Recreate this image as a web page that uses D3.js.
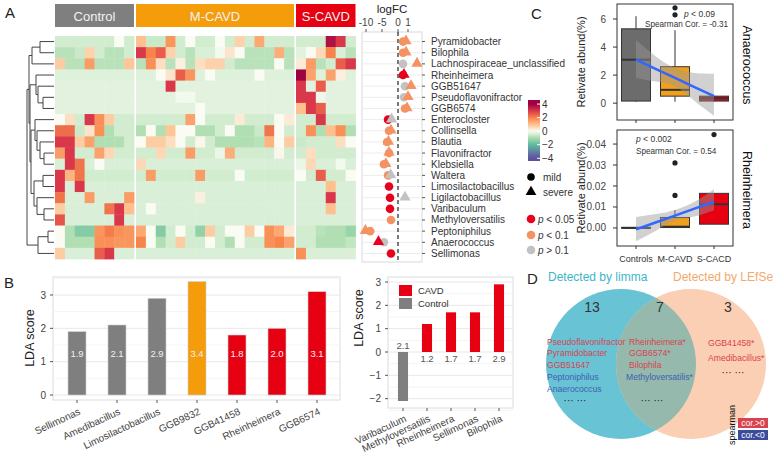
<!DOCTYPE html>
<html><head><meta charset="utf-8">
<script src="https://cdn.jsdelivr.net/npm/d3@7"></script>
<style>body{margin:0;background:#fff}</style>
</head><body><svg id="c" width="773" height="455"></svg>
<script>
// ---------------- DATA ----------------
const taxa = ["Pyramidobacter","Bilophila","Lachnospiraceae_unclassified","Rheinheimera","GGB51647",
  "Pseudoflavonifractor","GGB6574","Enterocloster","Collinsella","Blautia","Flavonifractor","Klebsiella",
  "Waltera","Limosilactobacillus","Ligilactobacillus","Varibaculum","Methyloversatilis","Peptoniphilus",
  "Anaerococcus","Sellimonas"];
const groups = ["Control","M-CAVD","S-CAVD"];
const groupSizes = [8,16,6];
// z-scored abundance per taxon: 8 Control, 16 M-CAVD, 6 S-CAVD samples
const heat = [
 [-0.5,-0.5,-0.5,-0.5,-0.5,-0.5,0,-0.5, 1.0,-0.6,-0.6,1.7,-0.5,0,-0.5,-0.5,0,-0.5,0.7,-0.5,1.4,-0.5,-0.5,-0.5, -0.5,-0.5,-0.5,3.7,3.0,-0.5],
 [-0.8,-0.8,-0.6,0.7,-0.5,-0.8,-0.8,-0.5, 3.0,2.0,2.5,0.7,-0.5,-0.8,-0.4,-0.4,-0.1,0.4,0,-0.8,-0.8,-0.8,1.3,-0.8, -0.3,0,0.6,2.0,-0.4,-0.8],
 [0.8,-0.8,-0.8,1.6,-0.8,-0.8,-0.8,0.9, -0.8,1.8,0.5,-0.8,0.2,-0.8,0.5,0.7,0.7,-0.5,-0.8,-0.8,-0.8,-0.8,0,-0.8, 0.3,1.6,-0.8,-0.5,2.5,3.0],
 [-0.35,-0.35,-0.35,-0.35,-0.35,-0.35,-0.35,-0.35, -0.35,-0.35,0,0.4,2.5,1.7,-0.35,0,-0.35,-0.35,-0.35,-0.35,0,-0.35,-0.35,-0.35, 4.0,1.5,-0.35,1.5,0.2,-0.35],
 [-0.3,-0.3,-0.3,-0.3,-0.3,-0.3,-0.3,-0.3, -0.3,-0.3,-0.3,3.0,-0.3,-0.3,-0.3,-0.3,-0.3,-0.3,-0.3,-0.3,-0.3,-0.3,-0.3,-0.3, 3.0,-0.3,2.5,-0.3,-0.3,-0.3],
 [-0.3,-0.3,-0.3,-0.3,-0.3,-0.3,-0.3,-0.3, -0.3,-0.3,-0.3,-0.3,-0.1,-0.1,-0.3,-0.3,-0.3,-0.3,-0.3,-0.3,-0.3,-0.3,-0.3,-0.3, 3.0,3.0,-0.15,-0.3,-0.3,-0.3],
 [-0.3,-0.3,-0.3,-0.3,-0.3,-0.3,-0.3,-0.3, -0.3,-0.3,-0.3,-0.3,-0.3,-0.3,0,-0.3,-0.3,-0.3,-0.3,-0.3,-0.3,-0.3,-0.3,-0.3, 1.0,3.0,2.5,-0.3,-0.3,-0.3],
 [0,0.5,-0.5,3.0,1.8,0.8,-0.5,-0.5, -0.5,-0.5,-0.5,-0.5,-0.5,1.5,0,-0.5,-0.5,-0.5,0.3,-0.5,-0.5,-0.5,0,0.3, -0.5,-0.5,3.0,-0.5,-0.5,-0.5],
 [2.3,2.3,-0.6,0.4,1.8,-0.9,-0.5,-0.5, -0.9,0,-0.9,0.9,0,0,-0.9,-0.9,-0.5,0,-0.9,-0.9,-0.6,2.2,0,-0.5, -0.5,1.8,-0.9,1.0,1.8,-0.9],
 [3.0,3.0,0.8,1.5,-0.9,-0.9,-0.9,-0.5, 0,0.8,0.8,0.5,0,-0.5,0.1,-0.5,-0.9,-0.9,-0.9,-0.9,-0.8,1.2,0,0.8, -0.6,-0.5,-0.5,-0.5,0.5,0],
 [1.6,3.0,-0.5,-0.5,1.5,0.6,-0.5,-0.5, -0.5,-0.5,0.6,-0.5,-0.5,1.6,-0.5,-0.5,-0.2,1.3,-0.5,-0.5,-0.5,-0.5,0.1,-0.5, -0.5,0.5,-0.5,-0.5,-0.5,-0.5],
 [-0.4,3.0,2.2,-0.4,0,-0.4,-0.4,-0.4, 0.6,-0.4,-0.4,-0.4,-0.4,-0.4,-0.4,-0.4,-0.4,-0.4,-0.4,-0.4,-0.4,-0.4,-0.4,-0.4, -0.2,0.6,-0.4,-0.4,-0.1,-0.4],
 [3.0,1.2,2.2,-0.5,-0.5,-0.5,-0.5,-0.5, -0.5,1.6,-0.5,-0.5,-0.5,-0.5,1.6,-0.5,-0.5,-0.5,0,-0.5,-0.5,-0.5,-0.5,-0.5, 0,-0.5,2.5,-0.5,-0.5,0],
 [3.0,-0.4,3.0,-0.4,-0.4,-0.4,-0.4,-0.4, -0.4,-0.4,-0.4,-0.4,-0.4,-0.4,-0.4,-0.4,-0.4,-0.4,-0.4,-0.4,-0.4,-0.4,-0.4,-0.4, -0.4,-0.4,-0.4,1.0,-0.4,-0.4],
 [2.2,-0.4,-0.4,1.6,-0.4,-0.4,-0.4,1.6, -0.4,-0.4,-0.4,-0.4,-0.4,-0.4,0.2,-0.4,-0.4,-0.4,-0.4,-0.4,-0.4,-0.4,-0.4,-0.4, -0.4,-0.4,-0.4,3.0,-0.4,-0.4],
 [0.8,-0.4,-0.4,-0.4,-0.4,2.2,3.0,1.0, -0.4,0,-0.4,-0.4,-0.4,-0.4,-0.4,-0.4,-0.4,-0.4,-0.4,-0.4,-0.4,-0.4,-0.4,-0.4, -0.4,-0.4,-0.4,1.0,-0.4,-0.4],
 [2.6,-0.4,-0.4,-0.4,-0.4,-0.4,3.0,-0.4, -0.4,-0.4,-0.4,-0.4,-0.4,-0.4,-0.4,-0.4,-0.4,-0.4,-0.4,-0.4,-0.4,-0.4,-0.4,-0.4, -0.4,-0.4,-0.4,-0.4,-0.4,-0.4],
 [0,-0.9,-1.5,-1.5,1.7,2.1,1.8,1.7, 1.4,0,-1.5,-0.5,0,-0.5,-1.3,0.8,-0.5,0,0,0.8,0,1.8,1.4,0.3, -0.5,-0.5,-0.8,-0.9,-0.9,-1.2],
 [0,-0.9,-0.9,-0.9,1.8,1.8,1.7,1.7, 2.0,0,-0.9,-0.5,0.8,-0.5,-0.5,0,-0.5,-0.9,0,-0.5,-0.5,1.8,2.0,1.5, -0.5,-0.5,-0.9,-0.9,-0.9,-0.7],
 [0.8,-0.4,-0.4,-0.4,2.5,3.0,-0.4,-0.4, -0.4,-0.4,-0.4,-0.4,-0.4,-0.4,-0.4,-0.4,-0.4,-0.4,-0.4,-0.4,-0.4,-0.4,-0.4,-0.4, 1.8,-0.4,-0.4,-0.4,-0.4,-0.4]
];
// dendrogram: [height, left, right], leaves = row index
const dendro = [27,[25,[22,[14,0,1],2],[24,[18,3,[16,4,[11,5,6]]],[23,[19,7,[17,8,[14,9,[10,10,11]]]],[20,[11,12,13],[17,14,[10,15,16]]]]]],[16,[6,17,18],19]];
// logFC: mild (circle) and severe (triangle), p class r:<0.05 o:<0.1 g:>0.1
const fcMild   = [0.5,0.5,0.5,0.5,0.7,0.6,0.7,-3.1,-2.8,-3.4,-2.8,-4.4,-3.1,-2.8,-2.5,-2.5,-2.2,-8.7,-4.4,-2.2];
const pMild    = ["o","o","g","r","g","g","o","r","o","o","o","o","o","r","r","r","o","o","g","r"];
const fcSevere = [0.8,0.8,1.9,0.6,1.3,1.0,0.9,-2.0,-2.2,-3.0,-2.8,-3.8,-2.3,null,0.7,null,null,-10.3,-6.1,null];
const pSevere  = ["o","o","o","r","o","o","o","g","o","o","o","o","g",null,"g",null,null,"o","r",null];
const fcTicks = [-10,-5,0,1];
const heatTicks = [4,2,0,-2,-4];
// Panel B
const ldaTaxa = ["Sellimonas","Amedibacillus","Limosilactobacillus","GGB9832","GGB41458","Rheinheimera","GGB6574"];
const ldaScore = [1.9,2.1,2.9,3.4,1.8,2.0,3.1];
const ldaGroup = ["Control","Control","Control","M-CAVD","S-CAVD","S-CAVD","S-CAVD"];
const lda2Taxa = ["Varibaculum","Methyloversatilis","Rheinheimera","Sellimonas","Bilophila"];
const lda2Score = [-2.1,1.2,1.7,1.7,2.9];
const lda2Group = ["Control","CAVD","CAVD","CAVD","CAVD"];
// Panel C
const cGroups = ["Controls","M-CAVD","S-CACD"];
const anaeroBox = [ {lo:0.1,q1:0.15,med:3.1,q3:5.3,hi:6.2}, {lo:0.1,q1:0.5,med:0.95,q3:2.6,hi:5.2}, {lo:0.1,q1:0.15,med:0.35,q3:0.5,hi:0.5} ];
const anaeroOut = [[],[6.3,6.8],[]];
const anaeroFitX = [1,1.5,2,2.5,3];
const anaeroFit = [3.1,2.45,1.8,1.15,0.5];
const anaeroLo = [1.8,1.55,1.2,0.15,-0.9];
const anaeroHi = [4.5,3.35,2.5,2.15,2.1];
const rheinBox = [ {lo:0,q1:0,med:0,q3:0.0003,hi:0.0003}, {lo:0,q1:0.0002,med:0.0006,q3:0.005,hi:0.0085}, {lo:0.0018,q1:0.0018,med:0.0113,q3:0.0165,hi:0.0165} ];
const rheinOut = [[],[0.0155,0.031],[0.0445]];
const rheinFitX = [1,1.5,2,2.5,3];
const rheinFit = [-0.0007,0.0026,0.0059,0.0092,0.0125];
const rheinLo = [-0.0063,-0.0015,0.0035,0.0055,0.0085];
const rheinHi = [0.0052,0.0066,0.0086,0.0125,0.0185];
const anaeroTicks = [0,2,4,6];
const rheinTicks = [0,0.01,0.02,0.03,0.04];
// Panel D
const vennCounts = [13,7,3];
const vennLeft = [["Pseudoflavonifractor","pos"],["Pyramidobacter","pos"],["GGB51647","pos"],["Peptoniphilus","neg"],["Anaerococcus","neg"]];
const vennMid = [["Rheinheimera*","pos"],["GGB6574*","pos"],["Bilophila","pos"],["Methyloversatilis*","neg"]];
const vennRight = [["GGB41458*","pos"],["Amedibacillus*","pos"]];

// ---------------- DRAW ----------------
const svg = d3.select("#c").attr("font-family",'"Liberation Sans", Arial, Helvetica, sans-serif');
const C = {ctrl:"#7f7f7f", m:"#f49c0a", s:"#e60012", red:"#e8001c", orange:"#f59264", gray:"#c2c2c2",
  pos:"#d9434f", neg:"#3d5fb0"};
const txt = (x,y,s,o={}) => {
  const t = svg.append("text").attr("x",x).attr("y",y).text(s)
    .attr("font-size",o.size||10).attr("fill",o.fill||"#333").attr("text-anchor",o.anchor||"start");
  if(o.rot!==undefined) t.attr("transform",`rotate(${o.rot},${x},${y})`);
  return t;
};
// panel letters
[["A",5,18],["B",4,288],["C",531,19],["D",527,284]].forEach(d=>txt(d[1],d[2],d[0],{size:15,fill:"#222"}));

// ---- Panel A heatmap ----
const heatColor = d3.scaleLinear().domain([-4,-2,-1,0,1,2,3,4])
  .range(["#5e4fa2","#5fbaa0","#a9dcac","#fafcf4","#fdc08e","#f7844a","#d8384a","#9e0142"]).clamp(true);
const rowY = d3.scaleBand().domain(taxa).range([36,259]);
const groupRanges = [[55,134],[136,294],[296,355.5]];
const groupColors = [C.ctrl,C.m,C.s];
let colStart = 0;
groups.forEach((g,gi)=>{
  const n = groupSizes[gi];
  const cx = d3.scaleBand().domain(d3.range(n)).range(groupRanges[gi]);
  svg.append("rect").attr("x",groupRanges[gi][0]).attr("y",4).attr("width",groupRanges[gi][1]-groupRanges[gi][0]).attr("height",23).attr("fill",groupColors[gi]);
  txt((groupRanges[gi][0]+groupRanges[gi][1])/2,20.5,g,{size:13,fill:"#f2f2f2",anchor:"middle"});
  const cs = colStart;
  taxa.forEach((t,ri)=>{
    svg.append("g").selectAll("rect").data(d3.range(n)).join("rect")
      .attr("x",k=>cx(k)).attr("y",rowY(t)).attr("width",cx.bandwidth()+0.4).attr("height",rowY.bandwidth()+0.4)
      .attr("fill",k=>heatColor(heat[ri][cs+k]));
  });
  colStart += n;
});
// dendrogram
const dx = d3.scaleLinear().domain([0,27]).range([54,27]);
const dg = svg.append("g").attr("fill","none").attr("stroke","#444").attr("stroke-width",1);
function drawNode(node){
  if(typeof node==="number") return {x:dx(0), y:rowY(taxa[node])+rowY.bandwidth()/2};
  const [h,a,b] = node; const A=drawNode(a), B=drawNode(b), x=dx(h);
  dg.append("path").attr("d",`M${A.x},${A.y}H${x}V${B.y}H${B.x}`);
  return {x, y:(A.y+B.y)/2};
}
drawNode(dendro);

// ---- logFC panel ----
const fcX = d3.scaleLinear().domain([-12,-10,-5,0,1,2.5]).range([362,366,382,398,408,423]);
svg.append("rect").attr("x",362).attr("y",32).attr("width",60).attr("height",230).attr("fill","#fff").attr("stroke","#d9d9d9");
taxa.forEach(t=>{
  const y = rowY(t)+rowY.bandwidth()/2;
  svg.append("line").attr("x1",362).attr("x2",422).attr("y1",y).attr("y2",y).attr("stroke","#ececec");
  svg.append("line").attr("x1",422).attr("x2",425).attr("y1",y).attr("y2",y).attr("stroke","#555");
  txt(431,y+3.5,t,{size:10,fill:"#333"});
});
svg.append("line").attr("x1",fcX(0)).attr("x2",fcX(0)).attr("y1",32).attr("y2",262).attr("stroke","#333").attr("stroke-width",1.3).attr("stroke-dasharray","4,3");
fcTicks.forEach(v=>{
  svg.append("line").attr("x1",fcX(v)).attr("x2",fcX(v)).attr("y1",29).attr("y2",32).attr("stroke","#555");
  txt(fcX(v),26,String(v),{size:10,anchor:"middle",fill:"#444"});
});
txt(392,13,"logFC",{size:11.5,anchor:"middle",fill:"#222"});
const pCol = {r:C.red,o:C.orange,g:C.gray};
taxa.forEach((t,i)=>{
  const y = rowY(t)+rowY.bandwidth()/2;
  svg.append("circle").attr("cx",fcX(fcMild[i])).attr("cy",y).attr("r",4.3).attr("fill",pCol[pMild[i]]);
});
taxa.forEach((t,i)=>{
  if(fcSevere[i]===null) return;
  const y = rowY(t)+rowY.bandwidth()/2;
  svg.append("path").attr("d",d3.symbol(d3.symbolTriangle,55)()).attr("transform",`translate(${fcX(fcSevere[i])},${y-0.5})`).attr("fill",pCol[pSevere[i]]);
});
// color legend
const legY = d3.scaleLinear().domain([-4.4,4.6]).range([161,100]);
const grad = svg.append("defs").append("linearGradient").attr("id","hg").attr("x1",0).attr("x2",0).attr("y1",1).attr("y2",0);
d3.range(-4.4,4.61,0.3).forEach(v=>grad.append("stop").attr("offset",(v+4.4)/9).attr("stop-color",heatColor(v)));
svg.append("rect").attr("x",528).attr("y",legY(4.6)).attr("width",12).attr("height",legY(-4.4)-legY(4.6)).attr("fill","url(#hg)");
heatTicks.forEach(v=>{
  svg.append("line").attr("x1",537).attr("x2",540).attr("y1",legY(v)).attr("y2",legY(v)).attr("stroke","#fff");
  txt(542,legY(v)+3.5,v<0?"\u2212"+Math.abs(v):String(v),{size:10,fill:"#333"});
});
svg.append("circle").attr("cx",531).attr("cy",177).attr("r",3.8).attr("fill","#000");
txt(543,180.5,"mild",{size:10});
svg.append("path").attr("d",d3.symbol(d3.symbolTriangle,50)()).attr("transform","translate(531,192)").attr("fill","#000");
txt(543,196,"severe",{size:10});
[["r","0.05","<",219],["o","0.1","<",235],["g","0.1",">",250]].forEach(d=>{
  svg.append("circle").attr("cx",531).attr("cy",d[3]).attr("r",4.3).attr("fill",pCol[d[0]]);
  const t = txt(538,d[3]+3.5,"",{size:10});
  t.append("tspan").attr("font-style","italic").text("p");
  t.append("tspan").text(` ${d[2]} ${d[1]}`);
});

// ---- Panel B left ----
const bColor = g => g==="Control"?C.ctrl:(g==="M-CAVD"?C.m:C.s);
const bx = d3.scaleBand().domain(ldaTaxa).range([57,337]).paddingInner(0.55).paddingOuter(0.275);
const by = d3.scaleLinear().domain([0,3]).range([395,295]);
svg.append("rect").attr("x",53).attr("y",277).attr("width",287).attr("height",123).attr("fill","#fff").attr("stroke","#dcdcdc");
d3.range(0,3.6,0.5).forEach(v=>{ if(by(v)>278) svg.append("line").attr("x1",53).attr("x2",340).attr("y1",by(v)).attr("y2",by(v)).attr("stroke",v%1===0?"#e8e8e8":"#f4f4f4"); });
[0,1,2,3].forEach(v=>{
  svg.append("line").attr("x1",50).attr("x2",53).attr("y1",by(v)).attr("y2",by(v)).attr("stroke","#555");
  txt(46,by(v)+3.5,String(v),{size:10,anchor:"end",fill:"#444"});
});
txt(34,338,"LDA score",{size:12.5,anchor:"middle",rot:-90,fill:"#222"});
ldaTaxa.forEach((t,i)=>{
  svg.append("rect").attr("x",bx(t)).attr("y",by(ldaScore[i])).attr("width",bx.bandwidth()).attr("height",by(0)-by(ldaScore[i]))
    .attr("fill",bColor(ldaGroup[i])).attr("stroke","#ccc").attr("stroke-width",0.6);
  txt(bx(t)+bx.bandwidth()/2,by(1.25)+3.5,ldaScore[i].toFixed(1),{size:9.5,anchor:"middle",fill:"#f0f0f0"});
  const cx = bx(t)+bx.bandwidth()/2;
  svg.append("line").attr("x1",cx).attr("x2",cx).attr("y1",400).attr("y2",403).attr("stroke","#555");
  txt(cx+4,414,t,{size:10,anchor:"end",rot:-25,fill:"#444"});
});

// ---- Panel B right ----
const b2x = d3.scaleBand().domain(lda2Taxa).range([391,511]).paddingInner(0.58).paddingOuter(0.29);
const b2y = d3.scaleLinear().domain([0,3]).range([352,282]);
svg.append("rect").attr("x",388).attr("y",277).attr("width",125).attr("height",131).attr("fill","#fff").attr("stroke","#dcdcdc");
d3.range(-2.5,3.1,0.5).forEach(v=>svg.append("line").attr("x1",388).attr("x2",513).attr("y1",b2y(v)).attr("y2",b2y(v)).attr("stroke",v%1===0?"#e8e8e8":"#f4f4f4"));
[-2,-1,0,1,2,3].forEach(v=>{
  svg.append("line").attr("x1",385).attr("x2",388).attr("y1",b2y(v)).attr("y2",b2y(v)).attr("stroke","#555");
  txt(381,b2y(v)+3.5,v<0?"\u2212"+Math.abs(v):String(v),{size:10,anchor:"end",fill:"#444"});
});
txt(363,318,"LDA score",{size:12.5,anchor:"middle",rot:-90,fill:"#222"});
lda2Taxa.forEach((t,i)=>{
  const v = lda2Score[i];
  svg.append("rect").attr("x",b2x(t)).attr("y",b2y(Math.max(v,0))).attr("width",b2x.bandwidth()).attr("height",Math.abs(b2y(v)-b2y(0)))
    .attr("fill",lda2Group[i]==="CAVD"?C.s:C.ctrl);
  const cx = b2x(t)+b2x.bandwidth()/2;
  txt(cx,v<0?b2y(0)-3:b2y(0)+9.5,Math.abs(v).toFixed(1),{size:9.5,anchor:"middle",fill:"#555"});
  svg.append("line").attr("x1",cx).attr("x2",cx).attr("y1",408).attr("y2",411).attr("stroke","#555");
  txt(cx+4,421,t,{size:10,anchor:"end",rot:-25,fill:"#444"});
});
[["CAVD",C.s,285],["Control",C.ctrl,298]].forEach(d=>{
  svg.append("rect").attr("x",399).attr("y",d[2]).attr("width",13).attr("height",11).attr("fill",d[1]);
  txt(418,d[2]+9,d[0],{size:9.5,fill:"#333"});
});

// ---- Panel C ----
const cx = d3.scaleLinear().domain([1,3]).range([636,714]);
function boxPanel(top,bottom,ydom,yrng,ticks,fmt,box,outs,fitX,fit,lo,hi,title,titleY,xlabels){
  const y = d3.scaleLinear().domain(ydom).range(yrng);
  svg.append("rect").attr("x",617).attr("y",top).attr("width",116).attr("height",bottom-top).attr("fill","#fff");
  const fills = [ "#6c6c6c", "#f0a01c", C.s ];
  box.forEach((b,i)=>{
    const x = cx(i+1), w=29;
    svg.append("line").attr("x1",x).attr("x2",x).attr("y1",y(b.hi)).attr("y2",y(b.q3)).attr("stroke","#333");
    svg.append("line").attr("x1",x).attr("x2",x).attr("y1",y(b.q1)).attr("y2",y(b.lo)).attr("stroke","#333");
    svg.append("rect").attr("x",x-w/2).attr("y",y(b.q3)).attr("width",w).attr("height",Math.max(y(b.q1)-y(b.q3),0.5))
      .attr("fill",fills[i]).attr("stroke","#333").attr("stroke-width",1);
    svg.append("line").attr("x1",x-w/2).attr("x2",x+w/2).attr("y1",y(b.med)).attr("y2",y(b.med)).attr("stroke","#333").attr("stroke-width",2);
    outs[i].forEach(o=>svg.append("circle").attr("cx",x).attr("cy",y(o)).attr("r",2.6).attr("fill","#222"));
  });
  const pts = fitX.map((v,i)=>({x:v,f:fit[i],lo:lo[i],hi:hi[i]}));
  svg.append("path").datum(pts).attr("d",d3.area().x(d=>cx(d.x)).y0(d=>y(d.lo)).y1(d=>y(d.hi)).curve(d3.curveNatural))
    .attr("fill","#999").attr("opacity",0.45);
  svg.append("path").datum(pts).attr("d",d3.line().x(d=>cx(d.x)).y(d=>y(d.f))).attr("stroke","#3366ff").attr("stroke-width",2.5).attr("fill","none");
  svg.append("rect").attr("x",617).attr("y",top).attr("width",116).attr("height",bottom-top).attr("fill","none").attr("stroke","#333");
  ticks.forEach(v=>{
    svg.append("line").attr("x1",613).attr("x2",617).attr("y1",y(v)).attr("y2",y(v)).attr("stroke","#333");
    txt(606,y(v)+3.5,fmt(v),{size:10,anchor:"end",fill:"#444"});
  });
  cGroups.forEach((g,i)=>{
    svg.append("line").attr("x1",cx(i+1)).attr("x2",cx(i+1)).attr("y1",bottom).attr("y2",bottom+3).attr("stroke","#333");
    if(xlabels) txt(cx(i+1),bottom+16,g,{size:9,anchor:"middle",fill:"#333"});
  });
  txt(585,(top+bottom)/2,"Retivate abund(%)",{size:11,anchor:"middle",rot:-90,fill:"#222"});
  txt(743,titleY,title,{size:12.5,anchor:"middle",rot:90,fill:"#111"});
  return y;
}
boxPanel(4,120,[-1.2,7.07],[120,4],anaeroTicks,d=>String(d),anaeroBox,anaeroOut,anaeroFitX,anaeroFit,anaeroLo,anaeroHi,"Anaerococcus",65,false);
boxPanel(130,246,[-0.0086,0.0467],[246,130],rheinTicks,d=>d.toFixed(2),rheinBox,rheinOut,rheinFitX,rheinFit,rheinLo,rheinHi,"Rheinheimera",190,true);
let t1 = txt(684,16.5,"",{size:8.5,fill:"#333"}); t1.append("tspan").attr("font-style","italic").text("p"); t1.append("tspan").text(" < 0.09");
txt(645,27,"Spearman Cor. = -0.31",{size:8.2,fill:"#333"});
let t2 = txt(636,142,"",{size:8.5,fill:"#333"}); t2.append("tspan").attr("font-style","italic").text("p"); t2.append("tspan").text(" < 0.002");
txt(636,154,"Spearman Cor. = 0.54",{size:8.2,fill:"#333"});

// ---- Panel D ----
txt(548,281,"Detected by limma",{size:12,fill:"#3cb6c6"});
txt(673,281,"Detected by LEfSe",{size:12,fill:"#f2a96a"});
const defs = svg.select("defs");
defs.append("clipPath").attr("id","lc").append("circle").attr("cx",621).attr("cy",364).attr("r",75);
svg.append("circle").attr("cx",621).attr("cy",364).attr("r",75).attr("fill","#68c4d4");
svg.append("circle").attr("cx",691).attr("cy",364).attr("r",75).attr("fill","#fbcfb4");
svg.append("circle").attr("cx",691).attr("cy",364).attr("r",75).attr("fill","#95b9ac").attr("clip-path","url(#lc)");
[592,660,728].forEach((x,i)=>txt(x,312,String(vennCounts[i]),{size:14,anchor:"middle",fill:"#333"}));
const vc = {pos:C.pos,neg:C.neg};
vennLeft.forEach((d,i)=>txt(547,344.5+i*11.8,d[0],{size:8.6,fill:vc[d[1]]}));
vennMid.forEach((d,i)=>txt(d[1]==="neg"?626:629,344.5+i*11.8,d[0],{size:8.6,fill:vc[d[1]]}));
vennRight.forEach((d,i)=>txt(708,346+i*15,d[0],{size:8.6,fill:vc[d[1]]}));
txt(575,404,"\u00b7\u00b7\u00b7 \u00b7\u00b7\u00b7",{size:10,anchor:"middle",fill:"#222"});
txt(652,404,"\u00b7\u00b7\u00b7 \u00b7\u00b7\u00b7",{size:10,anchor:"middle",fill:"#222"});
txt(733,376,"\u00b7\u00b7\u00b7 \u00b7\u00b7\u00b7",{size:10,anchor:"middle",fill:"#222"});
txt(735,425,"spearman",{size:9,anchor:"middle",rot:-90,fill:"#111"});
[["cor.>0",C.pos,418],["cor.<0","#3b4c9c",430]].forEach(d=>{
  svg.append("rect").attr("x",738).attr("y",d[2]).attr("width",30).attr("height",10).attr("fill",d[1]);
  txt(753,d[2]+8,d[0],{size:8.5,anchor:"middle",fill:"#fff"});
});
</script></body></html>
